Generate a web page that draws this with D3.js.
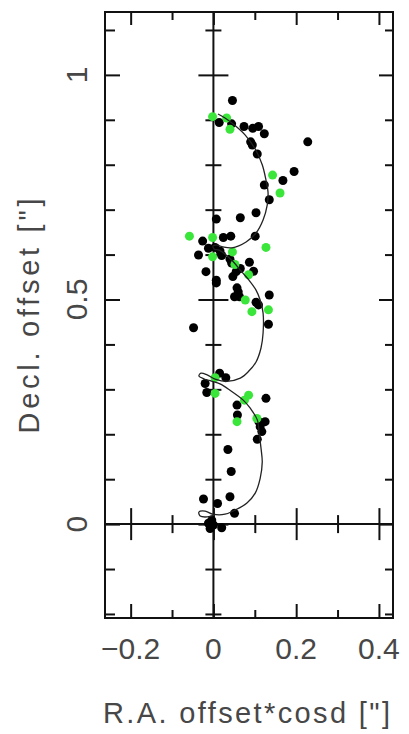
<!DOCTYPE html>
<html>
<head>
<meta charset="utf-8">
<script src="https://cdn.jsdelivr.net/npm/d3@7"></script>
<style>
body { margin: 0; background: #fff; }
svg { display: block; }
text { font-family: "Liberation Sans", Arial, sans-serif; fill: #474747; }
</style>
</head>
<body>
<svg width="409" height="734"></svg>
<script>
// measured positions, black and green epochs: [RA offset*cosd, Decl offset] in arcsec
const blackPoints = [
  [0.046, 0.943], [0.014, 0.894], [0.044, 0.891], [0.074, 0.885], [0.095, 0.881],
  [0.109, 0.885], [0.123, 0.869], [0.090, 0.851], [0.094, 0.844], [0.106, 0.824],
  [0.228, 0.851], [0.195, 0.785], [0.168, 0.765], [0.123, 0.755], [0.135, 0.722],
  [0.103, 0.693], [0.065, 0.682], [0.007, 0.679], [-0.026, 0.630], [0.024, 0.638],
  [0.042, 0.641], [0.101, 0.641], [-0.012, 0.614], [0.004, 0.616], [0.016, 0.608],
  [-0.036, 0.599], [0.020, 0.598], [0.040, 0.590], [0.044, 0.581], [0.087, 0.583],
  [0.065, 0.569], [0.097, 0.563], [-0.018, 0.562], [0.055, 0.562], [0.047, 0.551],
  [0.007, 0.543], [0.007, 0.537], [0.057, 0.526], [0.060, 0.517], [0.051, 0.506],
  [0.063, 0.506], [0.135, 0.510], [0.103, 0.494], [0.109, 0.488], [0.133, 0.445],
  [-0.048, 0.437], [0.015, 0.336], [0.030, 0.326], [-0.020, 0.313], [-0.016, 0.293],
  [0.127, 0.280], [0.057, 0.265], [0.058, 0.243], [0.110, 0.228], [0.125, 0.228],
  [0.113, 0.217], [0.117, 0.206], [0.106, 0.189], [0.035, 0.166], [0.043, 0.117],
  [-0.024, 0.056], [0.010, 0.046], [0.040, 0.061], [0.051, 0.024], [-0.004, 0.009],
  [-0.012, 0.002], [0.000, -0.002], [-0.008, -0.010], [0.020, -0.008]
];

const greenPoints = [
  [-0.002, 0.907], [0.032, 0.904], [0.040, 0.879], [0.143, 0.777], [0.161, 0.737],
  [-0.058, 0.641], [-0.002, 0.638], [0.127, 0.616], [-0.002, 0.595], [0.046, 0.606],
  [0.052, 0.578], [0.085, 0.555], [0.077, 0.499], [0.133, 0.477], [0.093, 0.473],
  [0.004, 0.326], [0.004, 0.291], [0.085, 0.287], [0.075, 0.276], [0.057, 0.228],
  [0.105, 0.235]
];

// fitted track (parallax + proper motion)
const trackPoints = [
  [0.002, 0.020], [-0.015, 0.016], [-0.032, 0.018], [-0.035, 0.027], [-0.020, 0.029],
  [-0.001, 0.022], [0.028, 0.022], [0.052, 0.031], [0.081, 0.047], [0.101, 0.069],
  [0.113, 0.102], [0.118, 0.138], [0.115, 0.169], [0.111, 0.198], [0.106, 0.232],
  [0.089, 0.258], [0.072, 0.276], [0.040, 0.298], [0.016, 0.312], [-0.003, 0.318],
  [-0.022, 0.323], [-0.035, 0.330], [-0.030, 0.336], [-0.015, 0.332], [0.004, 0.323],
  [0.033, 0.318], [0.065, 0.325], [0.084, 0.339], [0.103, 0.361], [0.115, 0.392],
  [0.120, 0.425], [0.120, 0.470], [0.113, 0.499], [0.103, 0.521], [0.086, 0.543],
  [0.069, 0.561], [0.048, 0.584], [0.028, 0.601], [0.014, 0.610], [0.002, 0.612],
  [-0.001, 0.619], [0.009, 0.621], [0.023, 0.617], [0.045, 0.615], [0.079, 0.628],
  [0.103, 0.648], [0.120, 0.677], [0.130, 0.710], [0.132, 0.739], [0.127, 0.766],
  [0.118, 0.800], [0.101, 0.835], [0.077, 0.866], [0.050, 0.889], [0.028, 0.904],
  [0.011, 0.913]
];

const xMajor = [-0.2, 0, 0.2, 0.4];
const xMinor = [-0.1, 0.1, 0.3];
const xTickLabels = ["\u22120.2", "0", "0.2", "0.4"];
const yMajor = [0, 0.5, 1];
const yMinor = [-0.2, -0.1, 0.1, 0.2, 0.3, 0.4, 0.6, 0.7, 0.8, 0.9, 1.1];
const yTickLabels = ["0", "0.5", "1"];

const svg = d3.select("svg");

const x = d3.scaleLinear().domain([-0.262, 0.434]).range([105, 393]);
const y = d3.scaleLinear().domain([-0.209, 1.140]).range([618, 12]);

const [xLeft, xRight] = x.range();
const [yBottom, yTop] = y.range();

const cleanAxis = (g) => {
  g.select(".domain").remove();
  g.selectAll("text").remove();
  g.selectAll("line").attr("stroke", "#111").attr("stroke-width", 2);
};

// major + minor ticks drawn with one axis generator at one place
const ticks = (axisFn, scale, major, minor, majorLen, minorLen, transform) => {
  svg.append("g").attr("transform", transform)
    .call(axisFn(scale).tickValues(major).tickSize(majorLen)).call(cleanAxis);
  svg.append("g").attr("transform", transform)
    .call(axisFn(scale).tickValues(minor).tickSize(minorLen)).call(cleanAxis);
};

// frame ticks, pointing inward
ticks(d3.axisTop, x, xMajor, xMinor, 14, 8, `translate(0,${yBottom})`);
ticks(d3.axisBottom, x, xMajor, xMinor, 13, 8, `translate(0,${yTop})`);
ticks(d3.axisRight, y, yMajor, yMinor, 15, 10, `translate(${xLeft},0)`);
ticks(d3.axisLeft, y, yMajor, yMinor, 14, 8, `translate(${xRight},0)`);

// zero lines with crossing ticks
ticks(d3.axisTop, x, xMajor, xMinor, 16, 9, `translate(0,${y(0)})`);
ticks(d3.axisBottom, x, xMajor, xMinor, 16, 9, `translate(0,${y(0)})`);
ticks(d3.axisLeft, y, yMajor, yMinor, 15, 8, `translate(${x(0)},0)`);
ticks(d3.axisRight, y, yMajor, yMinor, 15, 8, `translate(${x(0)},0)`);

svg.append("line")
  .attr("x1", xLeft).attr("x2", xRight).attr("y1", y(0)).attr("y2", y(0))
  .attr("stroke", "#111").attr("stroke-width", 2);
svg.append("line")
  .attr("x1", x(0)).attr("x2", x(0)).attr("y1", yTop).attr("y2", yBottom)
  .attr("stroke", "#111").attr("stroke-width", 2);

svg.append("rect")
  .attr("x", xLeft).attr("y", yTop)
  .attr("width", xRight - xLeft).attr("height", yBottom - yTop)
  .attr("fill", "none").attr("stroke", "#111").attr("stroke-width", 2);

// points
svg.append("g").selectAll("circle")
  .data(blackPoints)
  .join("circle")
  .attr("cx", (d) => x(d[0]))
  .attr("cy", (d) => y(d[1]))
  .attr("r", 4.5)
  .attr("fill", "#000");

svg.append("g").selectAll("circle")
  .data(greenPoints)
  .join("circle")
  .attr("cx", (d) => x(d[0]))
  .attr("cy", (d) => y(d[1]))
  .attr("r", 4.5)
  .attr("fill", "#3be63b");

const line = d3.line()
  .x((d) => x(d[0]))
  .y((d) => y(d[1]))
  .curve(d3.curveCatmullRom.alpha(0.5));

svg.append("path")
  .datum(trackPoints)
  .attr("d", line)
  .attr("fill", "none")
  .attr("stroke", "#222")
  .attr("stroke-width", 1.3);

// tick labels
svg.append("g").selectAll("text")
  .data(xMajor)
  .join("text")
  .attr("x", (d) => x(d))
  .attr("y", 659)
  .attr("text-anchor", "middle")
  .attr("font-size", 30)
  .text((d, i) => xTickLabels[i]);

svg.append("g").selectAll("text")
  .data(yMajor)
  .join("text")
  .attr("transform", (d) => `translate(87,${y(d)}) rotate(-90)`)
  .attr("text-anchor", "middle")
  .attr("font-size", 30)
  .text((d, i) => yTickLabels[i]);

// axis titles
svg.append("text")
  .attr("x", 246.5)
  .attr("y", 723)
  .attr("text-anchor", "middle")
  .attr("font-size", 29)
  .attr("textLength", 287)
  .attr("lengthAdjust", "spacing")
  .text("R.A. offset*cosd [\"]");

svg.append("text")
  .attr("transform", "translate(39,316) rotate(-90)")
  .attr("text-anchor", "middle")
  .attr("font-size", 29)
  .attr("textLength", 235)
  .attr("lengthAdjust", "spacing")
  .text("Decl. offset [\"]");
</script>
</body>
</html>
